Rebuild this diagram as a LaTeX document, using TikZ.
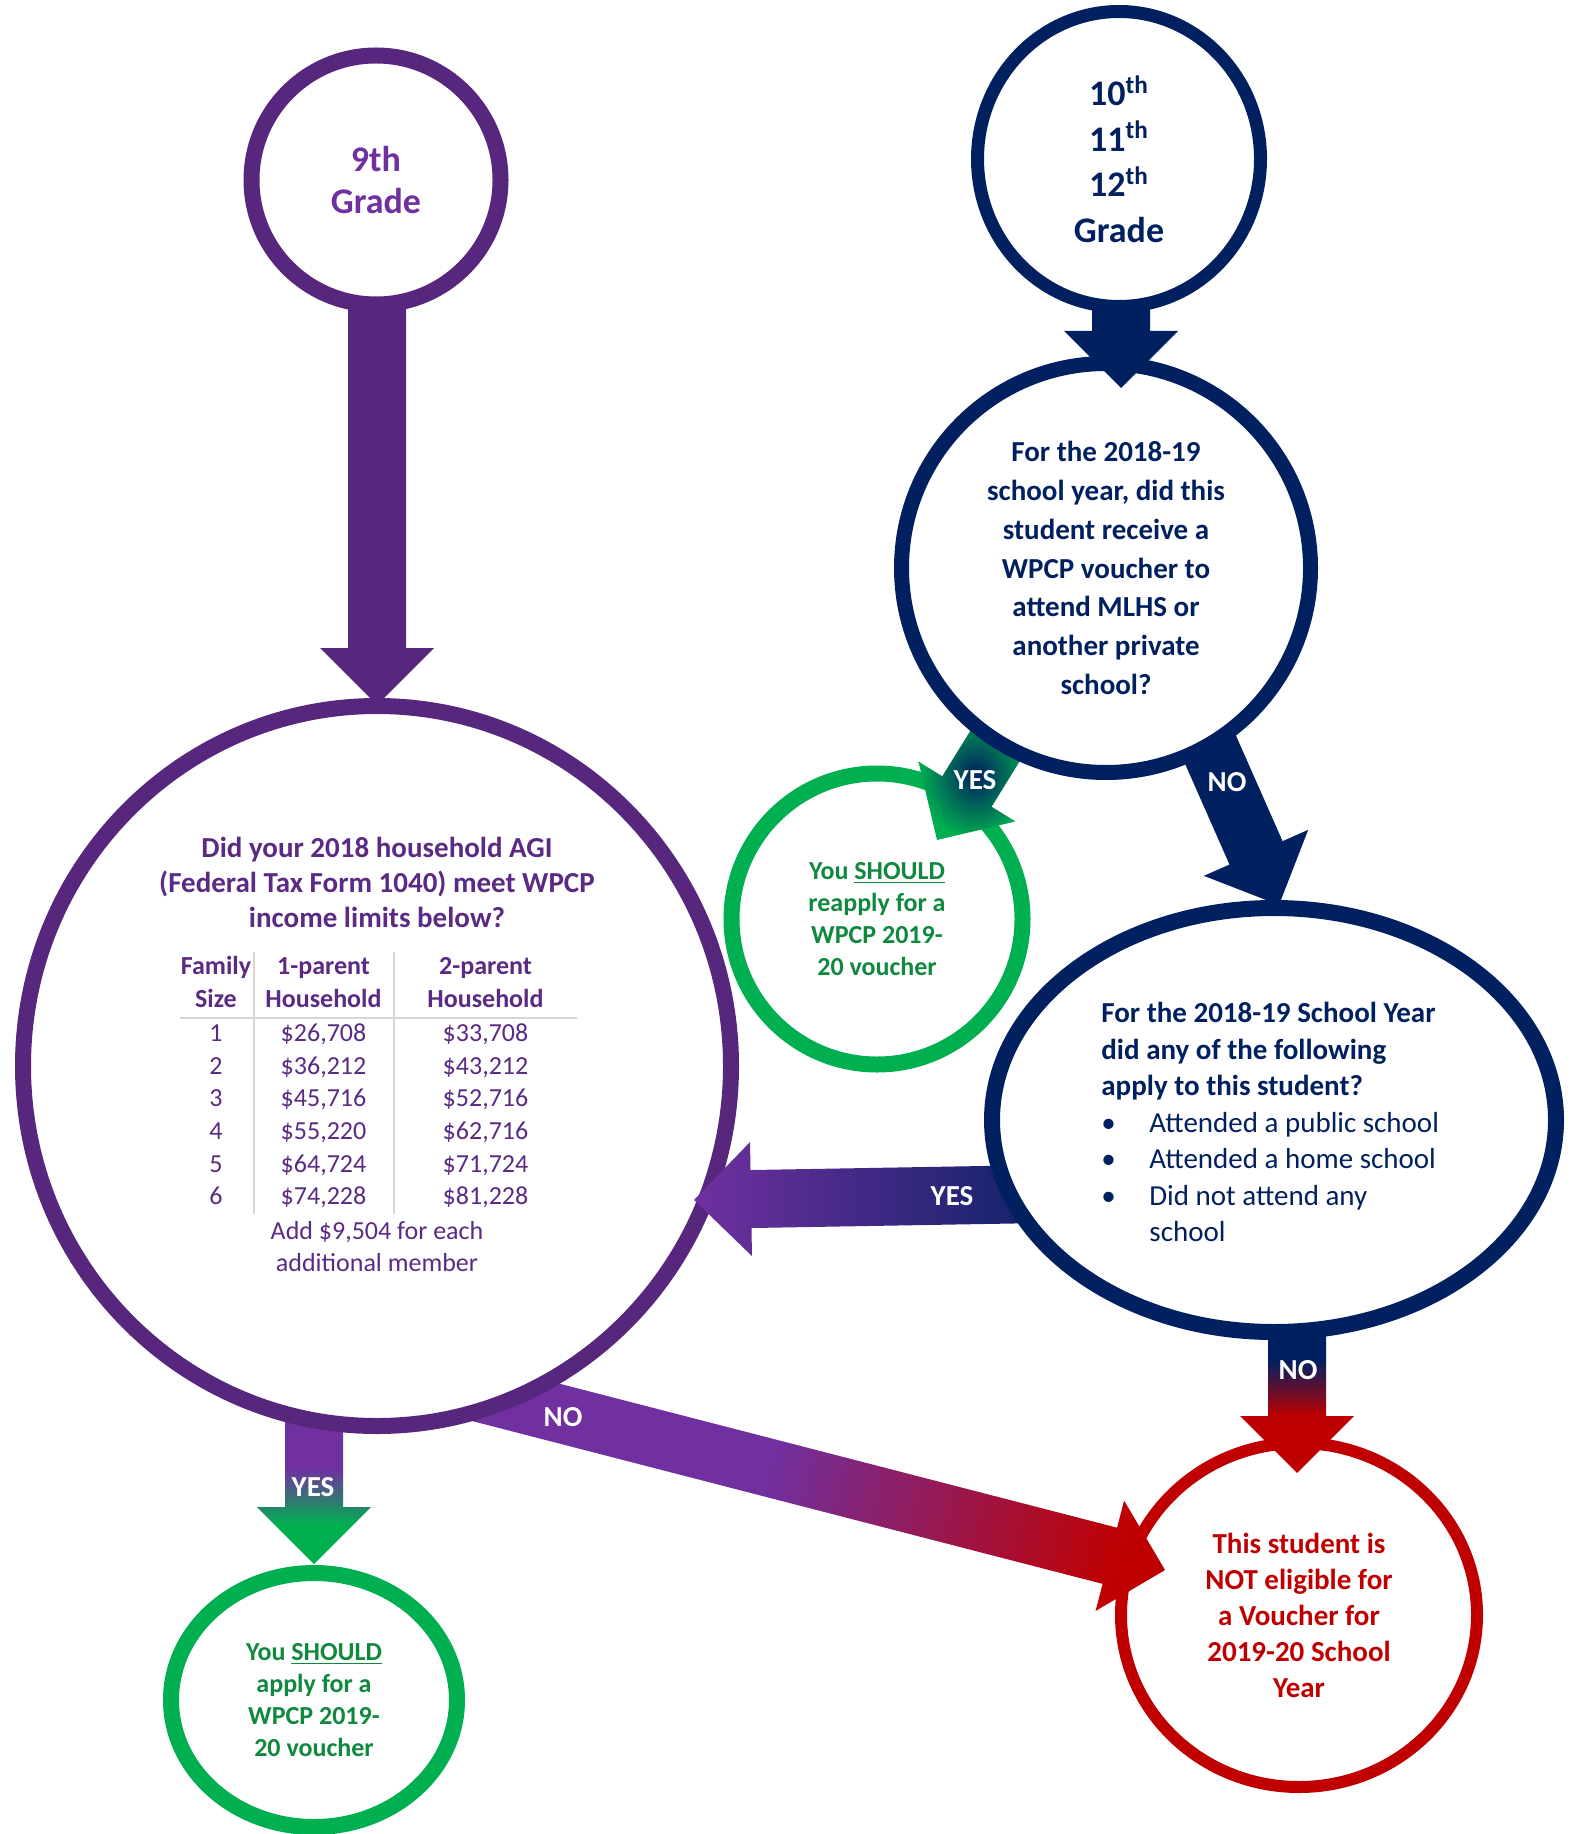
\documentclass[tikz,border=0pt]{standalone}
\usepackage{fontspec}
\setmainfont{Carlito}
\usepackage[table]{xcolor}
\usepackage{array}
\usetikzlibrary{shapes.geometric, calc}

\definecolor{navy}{HTML}{002060}
\definecolor{plum}{HTML}{57267D}
\definecolor{lilac}{HTML}{7030A0}
\definecolor{agiink}{HTML}{5A2A84}
\definecolor{leaf}{HTML}{00B050}
\definecolor{leafink}{HTML}{10893E}
\definecolor{brick}{HTML}{C00000}
\definecolor{rulegray}{HTML}{D6D6D6}

% colour fades for the answer arrows (tip at the bottom)
\pgfdeclareverticalshading{navyred}{100bp}{color(0bp)=(brick); color(44bp)=(brick); color(63bp)=(navy); color(100bp)=(navy)}
\pgfdeclareverticalshading{lilacleaf}{100bp}{color(0bp)=(leaf); color(38bp)=(leaf); color(57bp)=(lilac); color(100bp)=(lilac)}
\pgfdeclareverticalshading{lilacred}{100bp}{color(0bp)=(brick); color(24bp)=(brick); color(54bp)=(lilac); color(100bp)=(lilac)}

% block arrow from #2 with its tip at #3
\newcommand{\flowarrow}[3][fill=navy]{%
  \coordinate (fa-base) at ($(#3)!28.5pt!(#2)$);
  \path[#1] ($(#2)!14.5pt!90:(#3)$) -- ($(fa-base)!14.5pt!-90:(#2)$)
    -- ($(fa-base)!28.5pt!-90:(#2)$) -- (#3)
    -- ($(fa-base)!28.5pt!90:(#2)$) -- ($(fa-base)!14.5pt!90:(#2)$)
    -- ($(#2)!14.5pt!-90:(#3)$) -- cycle;
}

\begin{document}
\begin{tikzpicture}[x=0.5pt, y=-0.5pt,
  ring/.style={draw, fill=white, ellipse, inner sep=0pt, align=center},
  answer/.style={text=white, font=\fontsize{14.5}{17}\selectfont\bfseries}]
\useasboundingbox (0,0) rectangle (1572,1834);

% arrow ends
\coordinate (ninthout) at (377,250);
\coordinate (agiin) at (377,705);
\coordinate (gradesout) at (1121,250);
\coordinate (lastyearin) at (1121,388);
\coordinate (reapplyout) at (1008,725);
\coordinate (reapplyin) at (937,840);
\coordinate (otherout) at (1178,676);
\coordinate (otherin) at (1279,905);
\coordinate (agiyesout) at (1100,1193);
\coordinate (agiyesin) at (694,1200);
\coordinate (othernoout) at (1297,1325);
\coordinate (othernoin) at (1297,1473);
\coordinate (aginoout) at (468,1390);
\coordinate (aginoin) at (1165,1570);
\coordinate (applyout) at (314,1414);
\coordinate (applyin) at (314,1564);

% outcomes
\node[ring, draw=leaf, line width=8pt, minimum size=145.5pt, text=leafink,
  font=\fontsize{13}{16}\selectfont\bfseries] (reapply) at (877,919)
  {You \underline{SHOULD}\\reapply for a\\WPCP 2019-\\20 voucher};
\node[ring, draw=leaf, line width=8pt, minimum width=143pt, minimum height=127pt,
  text=leafink, font=\fontsize{13}{16}\selectfont\bfseries] (apply) at (314,1700)
  {You \underline{SHOULD}\\apply for a\\WPCP 2019-\\20 voucher};
\node[ring, draw=brick, line width=6pt, minimum width=178pt, minimum height=172pt,
  text=brick, font=\fontsize{14.5}{18}\selectfont\bfseries] (noteligible) at (1299,1615)
  {This student is\\NOT eligible for\\a Voucher for\\2019-20 School\\Year};

\flowarrow[shade, shading=navyred]{othernoout}{othernoin}
\flowarrow[shade, shading=lilacred, shading angle=75.5]{aginoout}{aginoin}
\flowarrow[shade, shading=lilacleaf]{applyout}{applyin}
\node[answer] (nobelow) at (1298,1370) {NO};
\node[answer] (noincome) at (563,1417) {NO};
\node[answer] (yesincome) at (313,1487) {YES};

% income question
\node[ring, draw=plum, line width=8pt, minimum width=354pt, minimum height=360pt] (agi) at (377,1066) {};
\node[text=agiink, font=\fontsize{14.5}{17.5}\selectfont\bfseries, align=center] (agiquestion) at (377,882)
  {Did your 2018 household AGI\\(Federal Tax Form 1040) meet WPCP\\income limits below?};
\node[text=agiink, font=\fontsize{13}{16.3}\selectfont, inner sep=0pt] (agitable) at (378,1083) {%
  \arrayrulecolor{rulegray}\setlength{\arrayrulewidth}{1pt}\setlength{\tabcolsep}{0pt}%
  \begin{tabular}{>{\centering\arraybackslash}p{36.5pt}|>{\centering\arraybackslash}p{69pt}|>{\centering\arraybackslash}p{91pt}}
  \textbf{Family} & \textbf{1-parent} & \textbf{2-parent}\\
  \textbf{Size} & \textbf{Household} & \textbf{Household}\\ \hline
  1 & \$26,708 & \$33,708\\
  2 & \$36,212 & \$43,212\\
  3 & \$45,716 & \$52,716\\
  4 & \$55,220 & \$62,716\\
  5 & \$64,724 & \$71,724\\
  6 & \$74,228 & \$81,228
  \end{tabular}};
\node[text=agiink, font=\fontsize{13}{16}\selectfont, align=center] (agiextra) at (377,1247)
  {Add \$9,504 for each\\additional member};

\flowarrow[fill=plum]{ninthout}{agiin}
\flowarrow[left color=lilac, right color=navy]{agiyesout}{agiyesin}
\node[answer] (yesother) at (952,1196) {YES};

% grade 9 start
\node[ring, draw=plum, line width=8pt, minimum size=124.5pt, text=lilac,
  font=\fontsize{18}{21}\selectfont\bfseries] (ninth) at (376,180) {9th\\Grade};

% other school last year
\node[ring, draw=navy, line width=8pt, minimum width=282pt, minimum height=212pt] (otheryear) at (1274,1120) {};
\node[text=navy, font=\fontsize{14.5}{18.25}\selectfont, align=left, anchor=west, inner sep=0pt] (otheryeartext) at (1101,1122)
  {\textbf{For the 2018-19 School Year}\\
   \textbf{did any of the following}\\
   \textbf{apply to this student?}\\
   \makebox[24pt][l]{\textbullet}Attended a public school\\
   \makebox[24pt][l]{\textbullet}Attended a home school\\
   \makebox[24pt][l]{\textbullet}Did not attend any\\
   \hspace*{24pt}school};

\flowarrow{otherout}{otherin}
\node[answer] (nolast) at (1227,782) {NO};
\flowarrow[inner color=navy, outer color=leaf]{reapplyout}{reapplyin}
\node[answer] (yeslast) at (975,780) {YES};

% voucher last year
\node[ring, draw=navy, line width=7.5pt, minimum size=204.5pt, text=navy,
  font=\fontsize{14.5}{19.4}\selectfont\bfseries] (lastyear) at (1106,568)
  {For the 2018-19\\school year, did this\\student receive a\\WPCP voucher to\\attend MLHS or\\another private\\school?};

\flowarrow{gradesout}{lastyearin}
% grades 10 to 12 start
\node[ring, draw=navy, line width=6.5pt, minimum width=141.5pt, minimum height=147.5pt, text=navy,
  font=\fontsize{18}{22.8}\selectfont\bfseries] (grades) at (1119,159)
  {10\textsuperscript{th}\\11\textsuperscript{th}\\12\textsuperscript{th}\\Grade};
\end{tikzpicture}
\end{document}
